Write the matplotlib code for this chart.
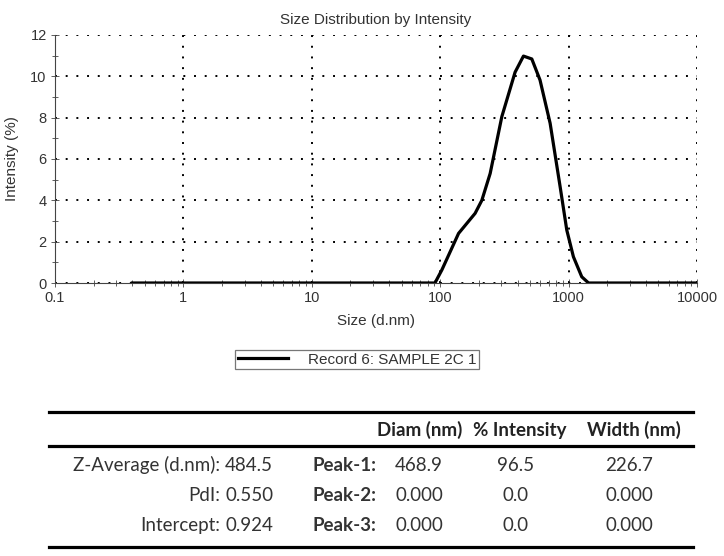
"""Size distribution by intensity (DLS record) with summary table"""
import matplotlib
matplotlib.use('Agg')
import matplotlib.pyplot as plt
from matplotlib.lines import Line2D
from matplotlib.ticker import FixedLocator, FuncFormatter, LogLocator, MultipleLocator

# curve
SIZE_NM = [0.4, 1, 10, 50, 91, 103, 139, 187, 211, 245, 302, 383, 445, 517, 599,
           718, 859, 968, 1090, 1266, 1430, 3000, 10000]
INTENSITY = [0, 0, 0, 0, 0, 0.63, 2.4, 3.37, 4.0, 5.3, 8.05, 10.2, 10.98, 10.84, 9.82,
             7.73, 4.66, 2.56, 1.27, 0.3, 0, 0, 0]
RECORD = 'Record 6: SAMPLE 2C 1'

HEADERS = ['Diam (nm)', '% Intensity', 'Width (nm)']
SUMMARY_LABELS = ['Z-Average (d.nm):', 'PdI:', 'Intercept:']
SUMMARY_VALUES = ['484.5', '0.550', '0.924']
PEAK_LABELS = ['Peak-1:', 'Peak-2:', 'Peak-3:']
PEAK_DIAM = ['468.9', '0.000', '0.000']
PEAK_INTENSITY = ['96.5', '0.0', '0.0']
PEAK_WIDTH = ['226.7', '0.000', '0.000']

W, H = 724, 556
CHART_FONT = ['Liberation Sans', 'DejaVu Sans']
TABLE_FONT = ['Lato', 'DejaVu Sans']
TEXT_COLOR = '#333333'

fig = plt.figure(figsize=(W / 100, H / 100), dpi=100)
ax = fig.add_axes([55 / W, 1 - 283 / H, (697 - 55) / W, (283 - 35) / H])

ax.plot(SIZE_NM, INTENSITY, color='black', lw=2.3, label=RECORD, solid_joinstyle='round')
ax.set_xscale('log')
ax.set_xlim(0.1, 10000)
ax.set_ylim(0, 12)
ax.xaxis.set_major_locator(FixedLocator([0.1, 1, 10, 100, 1000, 10000]))
ax.xaxis.set_major_formatter(FuncFormatter(lambda v, _: f'{v:g}'))
ax.xaxis.set_minor_locator(LogLocator(base=10, subs=range(2, 10), numticks=20))
ax.yaxis.set_major_locator(MultipleLocator(2))
ax.yaxis.set_minor_locator(MultipleLocator(1))
ax.tick_params(which='both', direction='inout', width=0.6, color='#444444',
               labelsize=10.5, labelcolor=TEXT_COLOR, pad=3)
ax.tick_params(which='major', length=6)
ax.tick_params(which='minor', length=4)
for lbl in ax.get_xticklabels() + ax.get_yticklabels():
    lbl.set_family(CHART_FONT)

for side in ('top', 'right'):
    ax.spines[side].set_visible(False)
for side in ('left', 'bottom'):
    ax.spines[side].set_linewidth(0.8)
    ax.spines[side].set_color('#444444')
ax.grid(which='major', color='black', linestyle=(0, (1, 4.5)), linewidth=1.4)
ax.set_axisbelow(True)

ax.set_title('Size Distribution by Intensity', fontsize=11, family=CHART_FONT,
             color=TEXT_COLOR, pad=8)
ax.set_xlabel('Size (d.nm)', fontsize=11, family=CHART_FONT, color=TEXT_COLOR, labelpad=6)
ax.set_ylabel('Intensity (%)', fontsize=11, family=CHART_FONT, color=TEXT_COLOR, labelpad=8)

leg = fig.legend(loc='center', bbox_to_anchor=(357 / W, 1 - 359.5 / H), frameon=True,
                 fancybox=False, edgecolor='#555555', handlelength=3.3, handletextpad=1.3,
                 borderpad=0.15, borderaxespad=0,
                 prop={'family': CHART_FONT, 'size': 11})
leg.get_frame().set_linewidth(0.9)
for t in leg.get_texts():
    t.set_color(TEXT_COLOR)

# summary table, laid out in pixel coordinates
tab = fig.add_axes([0, 0, 1, 1], zorder=-1)
tab.set_xlim(0, W)
tab.set_ylim(H, 0)
tab.axis('off')

for y in (412, 446, 547):
    tab.add_line(Line2D([49, 693], [y, y], color='black', lw=2.3))

fs = 13.5
for text, x in zip(HEADERS, (419.5, 520, 634)):
    tab.text(x, 436, text, ha='center', va='baseline', fontsize=fs, family=TABLE_FONT,
             weight='bold', color='#222222')

for i, y in enumerate((471, 501, 531)):
    kw = dict(va='baseline', fontsize=fs, family=TABLE_FONT, color='#333333')
    tab.text(220, y, SUMMARY_LABELS[i], ha='right', **kw)
    tab.text(225, y, SUMMARY_VALUES[i], ha='left', **kw)
    tab.text(312, y, PEAK_LABELS[i], ha='left', weight='bold', **kw)
    tab.text(395, y, PEAK_DIAM[i], ha='left', **kw)
    tab.text(516, y, PEAK_INTENSITY[i], ha='center', **kw)
    tab.text(629.5, y, PEAK_WIDTH[i], ha='center', **kw)

fig.savefig('out.png', dpi=100)
